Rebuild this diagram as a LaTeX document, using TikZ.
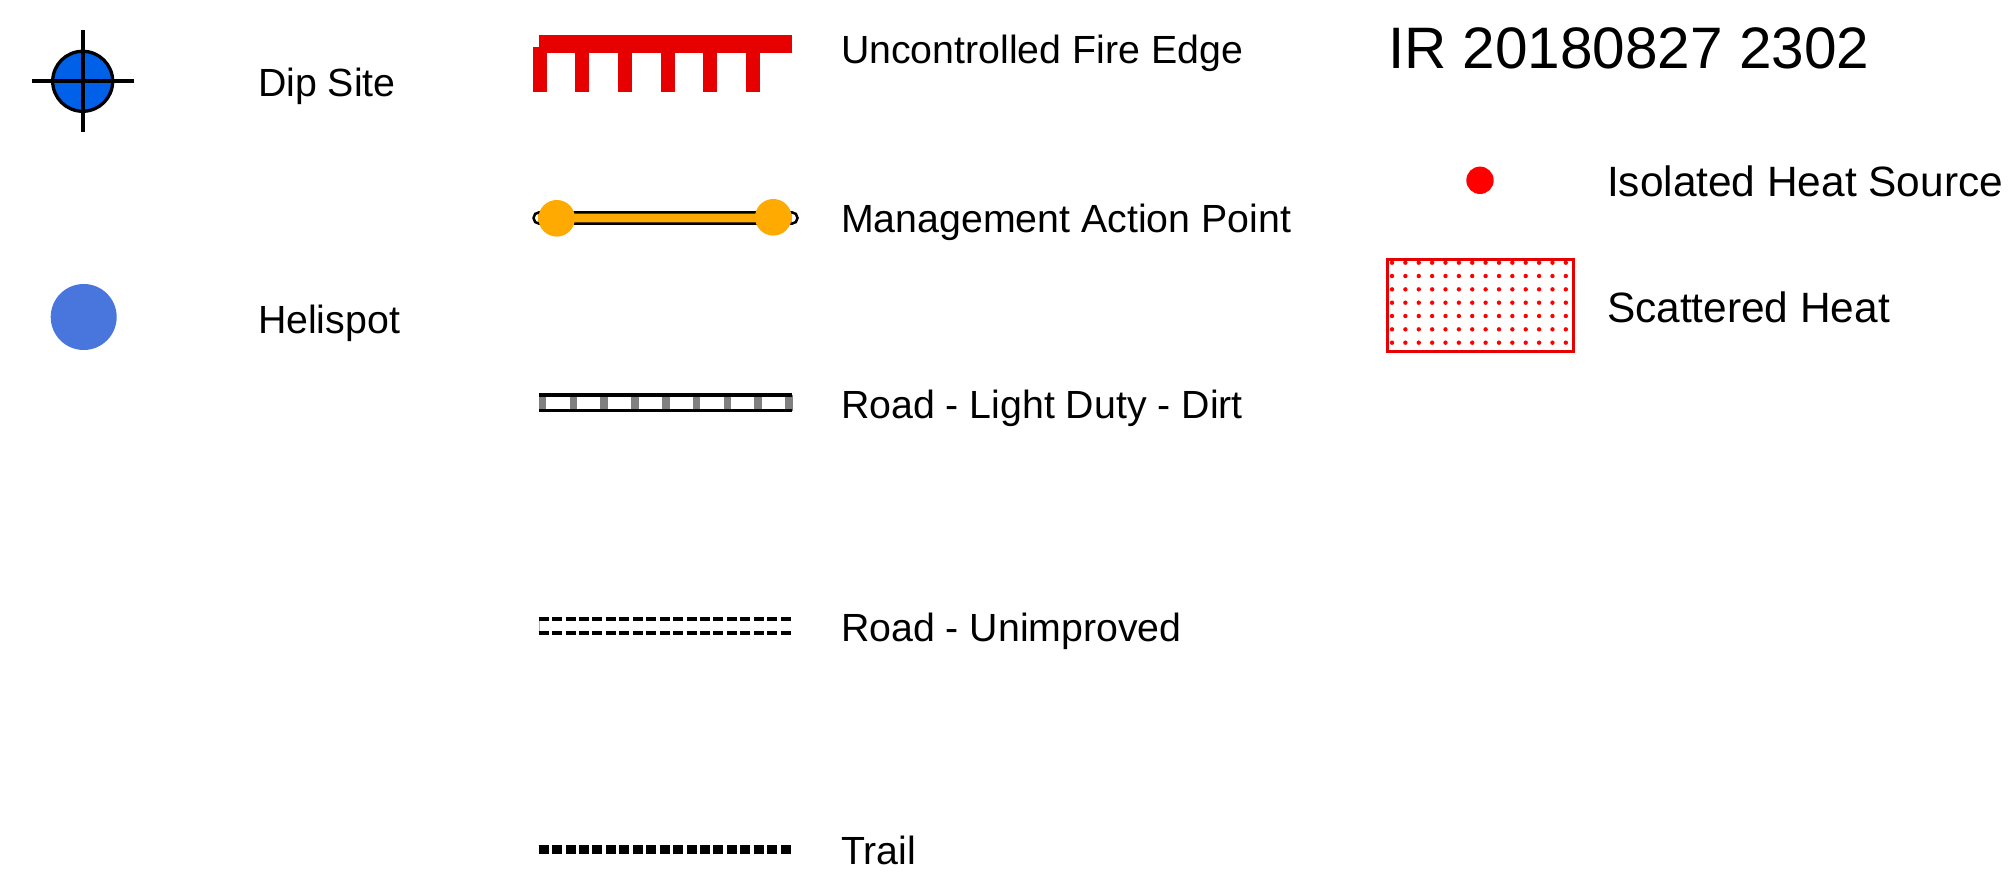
\documentclass[tikz,border=0pt]{standalone}
\usepackage{fontspec}
\setmainfont{Liberation Sans}
\definecolor{dipblue}{HTML}{0060E8}
\definecolor{heliblue}{HTML}{4876DC}
\definecolor{firered}{HTML}{E60000}
\definecolor{mapamber}{HTML}{FFAA00}
\definecolor{roadgrey}{HTML}{808080}
\tikzset{
  lab/.style={anchor=base west,inner sep=0pt,outer sep=0pt,font=\fontsize{19.65pt}{23pt}\selectfont},
  labbig/.style={anchor=base west,inner sep=0pt,outer sep=0pt,font=\fontsize{21.2pt}{25pt}\selectfont},
  ttl/.style={anchor=base west,inner sep=0pt,outer sep=0pt,font=\fontsize{29.25pt}{34pt}\selectfont},
  crossline/.style={black,line width=1.9pt},
  dashline/.style={black,line width=2pt,dash pattern=on 5pt off 1.72pt},
  trailline/.style={black,line width=4.5pt,dash pattern=on 5pt off 1.72pt},
}
\begin{document}
\begin{tikzpicture}[x=0.5pt,y=-0.5pt]
\useasboundingbox (0,0) rectangle (2011,886);
% Dip site
\filldraw[fill=dipblue,draw=black,line width=1.65pt] (82.7,81.3) circle (30);
\draw[crossline] (32,81.3) -- (133.7,81.3);
\draw[crossline] (82.7,30) -- (82.7,132);
\node[lab] (dip) at (258,96.5) {Dip Site};
% Helispot
\fill[heliblue] (83.7,317) circle (33);
\node[lab] (heli) at (258,333.5) {Helispot};
% Fire edge
\fill[firered] (538.7,35.3) rectangle (792,53.3);
\fill[firered] (533,47) rectangle (546.7,91.7);
\foreach \x in {575.3,618.3,661.3,703.3,746.3}
  \fill[firered] (\x,50) rectangle ++(13.7,41.7);
\node[lab] (fire) at (841,63.4) {Uncontrolled Fire Edge};
% Management action point
\fill[mapamber] (538,212) rectangle (792,224);
\draw[black,line width=1.25pt,rounded corners=2.8pt] (533.5,212.3) rectangle (797.5,223.7);
\fill[mapamber] (556.7,218.3) circle (18.3);
\fill[mapamber] (773.3,217.3) circle (18.3);
\node[lab] (map) at (841,233) {Management Action Point};
% Light duty road
\foreach \i in {0,...,8}
  \fill[roadgrey] (538.7+30.8*\i,395) rectangle ++(7.6,16);
\fill[black] (538.7,393.3) rectangle (792,397);
\fill[black] (538.7,408.7) rectangle (792,412.3);
\node[lab] (light) at (841,418.4) {Road - Light Duty - Dirt};
% Unimproved road
\draw[roadgrey!60,line width=0.3pt] (538.9,618.7) -- (538.9,633.3);
\draw[dashline] (538.7,618.7) -- (790.7,618.7);
\draw[dashline] (538.7,633.3) -- (790.7,633.3);
\node[lab] (unimp) at (841,641.4) {Road - Unimproved};
% Trail
\draw[trailline] (538.7,849.3) -- (790.7,849.3);
\node[lab] (trail) at (841,864) {Trail};
% Title
\node[ttl] (title) at (1388,68.5) {IR 20180827 2302};
% Isolated heat
\fill[red] (1480,180.3) circle (13.7);
\node[labbig] (iso) at (1607,196.8) {Isolated Heat Source};
% Scattered heat
\foreach \i in {0,...,13}
  \foreach \j in {0,...,6}
    \fill[red] (1392+13.37*\i,262.7+13.33*\j) circle (2.2);
\draw[firered,line width=1.5pt] (1387.2,259.2) rectangle (1573.5,351.8);
\node[labbig] (scat) at (1607,322.5) {Scattered Heat};
\end{tikzpicture}
\end{document}
